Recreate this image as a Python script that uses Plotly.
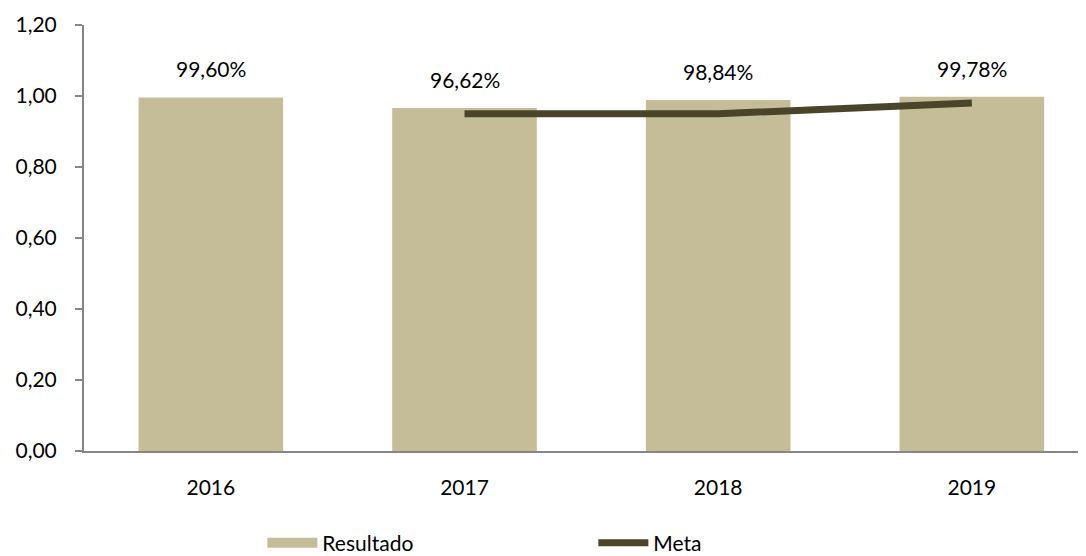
import plotly.graph_objects as go

# data
anos = ["2016", "2017", "2018", "2019"]
resultado = [0.9960, 0.9662, 0.9884, 0.9978]
rotulos = ["99,60%", "96,62%", "98,84%", "99,78%"]
meta_anos = ["2017", "2018", "2019"]
meta = [0.95, 0.95, 0.98]
y_ticks = [0, 0.2, 0.4, 0.6, 0.8, 1.0, 1.2]
y_ticktext = ["0,00", "0,20", "0,40", "0,60", "0,80", "1,00", "1,20"]

fonte = "Lato, sans-serif"
cor_barra = "#c4bd97"
cor_meta = "#4a452a"

fig = go.Figure()
fig.add_trace(go.Bar(x=anos, y=resultado, name="Resultado", showlegend=False,
                     marker=dict(color=cor_barra, line=dict(width=0)),
                     width=0.57))
# legend-only entry so the swatch is a wide block like the original
fig.add_trace(go.Scatter(x=[None], y=[None], name="Resultado", mode="lines",
                         line=dict(color=cor_barra, width=14)))
fig.add_trace(go.Scatter(x=meta_anos, y=meta, name="Meta", mode="lines",
                         line=dict(color=cor_meta, width=7, shape="spline", smoothing=0.3)))

# data labels (x as category index, since "2016" strings get read as numbers)
for i, (v, t) in enumerate(zip(resultado, rotulos)):
    fig.add_annotation(x=i, y=v, text=t, showarrow=False, yanchor="bottom",
                       yshift=14, font=dict(size=21, color="#000000", family=fonte))

# page body has an 8px margin, so the figure is 8px smaller and margins shifted
fig.update_layout(
    width=1078, height=548,
    margin=dict(l=76, r=0, t=17, b=105, autoexpand=False),
    plot_bgcolor="white", paper_bgcolor="white",
    font=dict(family=fonte, size=21, color="#000000"),
    showlegend=True,
    legend=dict(orientation="h", x=0.178, xanchor="left", y=-0.168, yanchor="top",
                itemwidth=50, entrywidth=266, entrywidthmode="pixels",
                font=dict(size=21), traceorder="normal"),
)
fig.update_xaxes(type="category", range=[-0.5, 3.45], showline=True, linecolor="#868686",
                 linewidth=2, ticks="", showgrid=False, ticklabelstandoff=17)
fig.update_yaxes(range=[0, 1.2], tickvals=y_ticks, ticktext=y_ticktext, showline=True,
                 linecolor="#868686", linewidth=2, ticks="outside", ticklen=7,
                 tickcolor="#868686", tickwidth=2, showgrid=False, zeroline=False,
                 ticklabelstandoff=14)

fig.write_html("out.html")
